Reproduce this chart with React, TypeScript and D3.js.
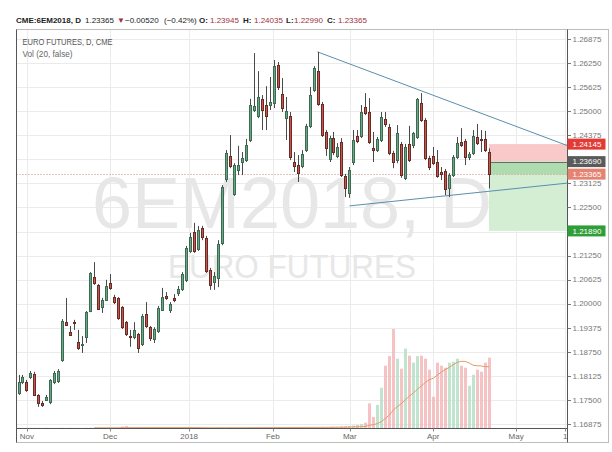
import React from "react";
import * as d3 from "d3";

// ---- data (daily bars, 6EM2018) ----
const opens = [
  1.1768, 1.1797, 1.1797, 1.1810, 1.1817, 1.1763, 1.1742, 1.1750, 1.1745, 1.1797,
  1.1799, 1.1854, 1.1952, 1.1927, 1.1952, 1.1901, 1.1893, 1.1914, 1.1981, 1.2069,
  1.2049, 1.1991, 1.2010, 1.2054, 1.2017, 1.2015, 1.1991, 1.1952, 1.1916, 1.1914,
  1.1921, 1.1895, 1.1973, 1.1939, 1.1908, 1.1929, 1.1984, 1.2020, 1.1984, 1.2015,
  1.2028, 1.2038, 1.2062, 1.2137, 1.2186, 1.2142, 1.2197, 1.2171, 1.2088, 1.2056,
  1.2067, 1.2158, 1.2324, 1.2384, 1.2285, 1.2347, 1.2368, 1.2373, 1.2425, 1.2503,
  1.2488, 1.2532, 1.2516, 1.2516, 1.2521, 1.2620, 1.2545, 1.2482, 1.2488, 1.2368,
  1.2360, 1.2358, 1.2399, 1.2462, 1.2555, 1.2604, 1.2519, 1.2446, 1.2376, 1.2430,
  1.2384, 1.2420, 1.2332, 1.2288, 1.2368, 1.2436, 1.2436, 1.2511, 1.2498, 1.2404,
  1.2399, 1.2425, 1.2480, 1.2459, 1.2391, 1.2373, 1.2415, 1.2327, 1.2415, 1.2412,
  1.2433, 1.2521, 1.2477, 1.2378, 1.2384, 1.2368, 1.2342, 1.2345, 1.2300, 1.2334,
  1.2381, 1.2420, 1.2423, 1.2381, 1.2391, 1.2433, 1.2428, 1.2428, 1.23945,
];
const highs = [
  1.1815, 1.1815, 1.1802, 1.1825, 1.1823, 1.1765, 1.1747, 1.1763, 1.1804, 1.1825,
  1.1830, 1.1960, 1.2015, 1.1942, 1.1958, 1.1932, 1.1916, 1.1981, 1.2082, 1.2108,
  1.2051, 1.2015, 1.2062, 1.2077, 1.2023, 1.2017, 1.1994, 1.1955, 1.1932, 1.1952,
  1.1924, 1.1973, 1.2004, 1.1942, 1.1939, 1.1994, 1.2041, 1.2030, 1.2004, 1.2025,
  1.2046, 1.2082, 1.2150, 1.2184, 1.2210, 1.2202, 1.2202, 1.2176, 1.2093, 1.2082,
  1.2165, 1.2308, 1.2399, 1.2438, 1.2365, 1.2410, 1.2394, 1.2428, 1.2532, 1.2651,
  1.2604, 1.2542, 1.2565, 1.2589, 1.2633, 1.2628, 1.2586, 1.2537, 1.2498, 1.2394,
  1.2386, 1.2399, 1.2467, 1.2563, 1.2617, 1.2654, 1.2524, 1.2451, 1.2436, 1.2446,
  1.2417, 1.2430, 1.2337, 1.2355, 1.2451, 1.2451, 1.2516, 1.2547, 1.2534, 1.2446,
  1.2433, 1.2498, 1.2498, 1.2467, 1.2397, 1.2464, 1.2420, 1.2415, 1.2462, 1.2446,
  1.2534, 1.2547, 1.2482, 1.2384, 1.2407, 1.2399, 1.2355, 1.2350, 1.2339, 1.2386,
  1.2433, 1.2456, 1.2428, 1.2394, 1.2451, 1.2467, 1.2451, 1.2449, 1.24035,
];
const lows = [
  1.1763, 1.1791, 1.1771, 1.1804, 1.1760, 1.1732, 1.1732, 1.1747, 1.1739, 1.1791,
  1.1794, 1.1849, 1.1942, 1.1916, 1.1932, 1.1880, 1.1872, 1.1898, 1.1978, 1.2049,
  1.1984, 1.1976, 1.2007, 1.2036, 1.1999, 1.1958, 1.1934, 1.1916, 1.1888, 1.1908,
  1.1872, 1.1890, 1.1937, 1.1903, 1.1898, 1.1924, 1.1981, 1.2010, 1.1976, 1.2004,
  1.2020, 1.2033, 1.2056, 1.2132, 1.2132, 1.2137, 1.2165, 1.2080, 1.2036, 1.2036,
  1.2043, 1.2152, 1.2316, 1.2352, 1.2280, 1.2334, 1.2334, 1.2368, 1.2420, 1.2498,
  1.2482, 1.2451, 1.2451, 1.2503, 1.2508, 1.2555, 1.2498, 1.2425, 1.2373, 1.2342,
  1.2316, 1.2352, 1.2394, 1.2456, 1.2550, 1.2514, 1.2433, 1.2384, 1.2368, 1.2386,
  1.2378, 1.2329, 1.2277, 1.2275, 1.2360, 1.2417, 1.2430, 1.2490, 1.2415, 1.2368,
  1.2394, 1.2420, 1.2459, 1.2386, 1.2352, 1.2365, 1.2327, 1.2321, 1.2368, 1.2404,
  1.2428, 1.2472, 1.2373, 1.2347, 1.2360, 1.2327, 1.2321, 1.2282, 1.2277, 1.2329,
  1.2376, 1.2407, 1.2360, 1.2373, 1.2386, 1.2412, 1.2394, 1.2394, 1.2299,
];
const closes = [
  1.1797, 1.1810, 1.1776, 1.1820, 1.1763, 1.1742, 1.1737, 1.1758, 1.1802, 1.1820,
  1.1825, 1.1955, 1.1945, 1.1919, 1.1950, 1.1885, 1.1895, 1.1978, 1.2080, 1.2054,
  1.1986, 1.2010, 1.2046, 1.2041, 1.2004, 1.1963, 1.1939, 1.1921, 1.1914, 1.1932,
  1.1885, 1.1968, 1.1942, 1.1911, 1.1934, 1.1989, 1.2017, 1.2015, 1.1999, 1.2010,
  1.2038, 1.2077, 1.2145, 1.2173, 1.2137, 1.2191, 1.2173, 1.2085, 1.2049, 1.2072,
  1.2155, 1.2303, 1.2391, 1.2358, 1.2360, 1.2360, 1.2378, 1.2412, 1.2516, 1.2514,
  1.2537, 1.2503, 1.2488, 1.2524, 1.2617, 1.2563, 1.2508, 1.2501, 1.2381, 1.2358,
  1.2339, 1.2389, 1.2462, 1.2542, 1.2612, 1.2519, 1.2438, 1.2404, 1.2430, 1.2394,
  1.2407, 1.2334, 1.2300, 1.2347, 1.2425, 1.2423, 1.2498, 1.2495, 1.2420, 1.2399,
  1.2428, 1.2485, 1.2467, 1.2391, 1.2368, 1.2443, 1.2334, 1.2407, 1.2373, 1.2443,
  1.2532, 1.2477, 1.2378, 1.2355, 1.2365, 1.2332, 1.2337, 1.2298, 1.2334, 1.2381,
  1.2417, 1.2412, 1.2381, 1.2389, 1.2436, 1.2417, 1.2425, 1.2399, 1.23365,
];
const volumes = [
  300, 200, 400, 300, 500, 300, 200, 400, 300, 200,
  400, 600, 300, 500, 400, 300, 200, 500, 700, 400,
  300, 600, 400, 300, 500, 800, 3000, 4200, 600, 400,
  500, 700, 400, 300, 600, 500, 400, 300, 500, 400,
  600, 400, 500, 700, 400, 600, 500, 800, 600, 500,
  700, 900, 600, 800, 700, 900, 1000, 800, 1100, 900,
  1200, 1000, 900, 1100, 1300, 1000, 1200, 1400, 1100, 1300,
  1500, 1200, 1600, 1400, 1800, 1600, 2000, 1800, 2200, 2600,
  2400, 3000, 3400, 4000, 5200, 6000, 8000, 10600, 49000, 22000,
  46000, 80000, 124000, 143000, 197000, 138000, 118000, 158000, 144000, 130000,
  143000, 144000, 138000, 116000, 62000, 130000, 124000, 120000, 130000, 132000,
  138000, 124000, 120000, 84000, 106000, 116000, 112000, 130000, 140000,
];

const priceTicks = [
  1.26875, 1.2625, 1.25625, 1.25, 1.24375, 1.2375, 1.23125, 1.225, 1.21875,
  1.2125, 1.20625, 1.2, 1.19375, 1.1875, 1.18125, 1.175, 1.16875,
];
const timeLabels = ["Nov", "Dec", "2018", "Feb", "Mar", "Apr", "May", "1"];
const timeTickIndex = [2.1, 23, 42.8, 63.8, 83.1, 104, 124.8, 137.1];

const upperTrend = [
  [75, 1.2654],
  [101, 1.2553],
];
const lowerTrend = [
  [83, 1.2254],
  [107, 1.228],
];
const positionStartIndex = 118;
const stopLevel = 1.24145;
const entryLevel = 1.2369;
const targetLevel = 1.2189;
const lastPrice = 1.23365;

// header pieces: text, style
const headerParts = [
  { t: "CME:6EM2018, D", bold: true, red: false },
  { t: "1.23365", bold: false, red: false },
  { t: "▼", bold: false, red: true },
  { t: "−0.00520", bold: false, red: false },
  { t: "(−0.42%)", bold: false, red: false },
  { t: "O:", bold: true, red: false },
  { t: "1.23945", bold: false, red: true },
  { t: "H:", bold: true, red: false },
  { t: "1.24035", bold: false, red: true },
  { t: "L:", bold: true, red: false },
  { t: "1.22990", bold: false, red: true },
  { t: "C:", bold: true, red: false },
  { t: "1.23365", bold: false, red: true },
];
// left edge of each header piece (layout)
const headerX = [16, 85, 117, 125, 164, 199, 210, 243, 254, 286, 294, 327, 338];

const FONT = "'Liberation Sans', Arial, sans-serif";

export default function App() {
  const W = 612;
  const H = 452;
  const plot = { left: 16.5, right: 567.5, top: 29.5, bottom: 428.5 };
  const outer = { right: 608.5, bottom: 442.5 };

  const x = d3.scaleLinear().domain([0, 118]).range([18.5, 489]);
  const y = d3.scaleLinear().domain([1.16875, 1.26875]).range([424, 39]);
  const vy = d3.scaleLinear().domain([0, 200000]).range([428, 327.5]);

  const n = closes.length;
  const idx = d3.range(n);
  const up = (i: number) => closes[i] >= opens[i];

  // volume MA(20)
  const ma = idx.map((i) => {
    const s = Math.max(0, i - 19);
    return d3.mean(volumes.slice(s, i + 1)) as number;
  });
  const maLine = d3
    .line<number>()
    .x((i) => x(i))
    .y((i) => vy(ma[i]));

  const idxRight = x.invert(plot.right);
  const extend = (t: number[][]) => {
    const [a, b] = t;
    const slope = (b[1] - a[1]) / (b[0] - a[0]);
    return { x1: x(a[0]), y1: y(a[1]), x2: x(idxRight), y2: y(a[1] + slope * (idxRight - a[0])) };
  };
  const ut = extend(upperTrend);
  const lt = extend(lowerTrend);

  const crisp = (v: number) => Math.round(v) + 0.5;

  const posX = x(positionStartIndex);
  const posW = plot.right - posX;

  const priceLabels = [
    { v: stopLevel, bg: "#e23b36" },
    { v: entryLevel, bg: "#5a5a5a" },
    { v: lastPrice, bg: "#e48372" },
    { v: targetLevel, bg: "#2f9e38" },
  ];
  // tick labels fully hidden behind a price label are not drawn
  const visibleTicks = priceTicks.filter(
    (v) => !priceLabels.some((p) => Math.abs(y(p.v) - y(v)) < 7)
  );

  return (
    <svg
      width={W}
      height={H}
      style={{ position: "absolute", left: 0, top: 0, background: "#fff" }}
      fontFamily={FONT}
    >
      <defs>
        <clipPath id="plotClip">
          <rect x={plot.left} y={plot.top} width={plot.right - plot.left} height={plot.bottom - plot.top} />
        </clipPath>
      </defs>
      <rect x={0} y={0} width={W} height={H} fill="#fff" />

      {/* header */}
      <g fontSize={8}>
        {headerParts.map((p, k) => (
          <text
            key={"hd" + k}
            x={headerX[k]}
            y={22.5}
            fontWeight={p.bold ? "bold" : "normal"}
            fill={p.red ? "#a0303a" : "#222"}
          >
            {p.t}
          </text>
        ))}
      </g>

      {/* grid */}
      <g stroke="#ebebeb" strokeWidth={1}>
        {priceTicks.map((v) => (
          <line key={"h" + v} x1={plot.left} x2={plot.right} y1={crisp(y(v))} y2={crisp(y(v))} />
        ))}
        {timeTickIndex.map((t) => (
          <line key={"v" + t} x1={crisp(x(t))} x2={crisp(x(t))} y1={plot.top} y2={plot.bottom} />
        ))}
      </g>

      {/* watermark */}
      <g fill="#e7e7e7" textAnchor="middle">
        <text x={292} y={228} fontSize={72}>6EM2018, D</text>
        <text x={292} y={278} fontSize={33} textLength={248} lengthAdjust="spacingAndGlyphs">EURO FUTURES</text>
      </g>

      {/* legend */}
      <text x={22.5} y={45} fontSize={9} fill="#555" textLength={90} lengthAdjust="spacingAndGlyphs">
        EURO FUTURES, D, CME
      </text>
      <text x={22.5} y={56.5} fontSize={9} fill="#666" textLength={50} lengthAdjust="spacingAndGlyphs">
        Vol (20, false)
      </text>

      <g clipPath="url(#plotClip)">
        {/* volume */}
        {idx.map((i) => {
          const c = Math.round(x(i));
          const top = vy(volumes[i]);
          return (
            <rect
              key={"vol" + i}
              x={c - 1}
              y={top}
              width={3}
              height={Math.max(0, 428 - top)}
              fill={up(i) ? "#b5dfc5" : "#f3b8b8"}
              opacity={0.85}
            />
          );
        })}
        <path d={maLine(idx.slice(19)) || ""} fill="none" stroke="#e39a6a" strokeWidth={1} />

        {/* position tool */}
        <rect x={posX} y={y(stopLevel)} width={posW} height={y(entryLevel) - y(stopLevel)} fill="#f9c9c9" />
        <rect x={posX} y={y(entryLevel)} width={posW} height={y(targetLevel) - y(entryLevel)} fill="#d3eed3" />
        <rect x={posX} y={y(entryLevel)} width={posW} height={y(lastPrice) - y(entryLevel)} fill="#aedcae" />
        <line x1={posX} x2={plot.right} y1={crisp(y(entryLevel))} y2={crisp(y(entryLevel))} stroke="#6b6b6b" />

        {/* trend lines */}
        <line {...ut} stroke="#5a8fae" strokeWidth={1} />
        <line {...lt} stroke="#5a8fae" strokeWidth={1} />

        {/* last price line */}
        <line
          x1={plot.left}
          x2={plot.right}
          y1={crisp(y(lastPrice))}
          y2={crisp(y(lastPrice))}
          stroke="#c98a84"
          strokeDasharray="1 2"
        />

        {/* candles */}
        {idx.map((i) => {
          const c = Math.round(x(i));
          const yo = y(opens[i]);
          const yc = y(closes[i]);
          const top = Math.round(Math.min(yo, yc));
          const h = Math.max(1, Math.round(Math.abs(yo - yc)));
          const g = up(i);
          return (
            <g key={"c" + i}>
              <line x1={c + 0.5} x2={c + 0.5} y1={y(highs[i])} y2={y(lows[i])} stroke="#4a4a4a" strokeWidth={1} />
              <rect
                x={c - 0.5}
                y={top + 0.5}
                width={2}
                height={h}
                fill={g ? "#6aa584" : "#c4584e"}
                stroke={g ? "#3c6a52" : "#6a2a24"}
                strokeWidth={1}
              />
            </g>
          );
        })}
      </g>

      {/* frame */}
      <g fill="none">
        <rect x={plot.left} y={plot.top} width={outer.right - plot.left} height={outer.bottom - plot.top} stroke="#bdbdbd" />
        <line x1={plot.left} x2={plot.left} y1={plot.top} y2={outer.bottom} stroke="#555" />
        <line x1={plot.right} x2={plot.right} y1={plot.top} y2={outer.bottom} stroke="#555" />
        <line x1={plot.left} x2={plot.right} y1={plot.bottom} y2={plot.bottom} stroke="#555" />
      </g>

      {/* right axis */}
      <g fontSize={8} fill="#777">
        {priceTicks.map((v) => (
          <line key={"tk" + v} x1={plot.right} x2={plot.right + 3.5} y1={crisp(y(v))} y2={crisp(y(v))} stroke="#777" />
        ))}
        {visibleTicks.map((v) => (
          <text key={"t" + v} x={plot.right + 5} y={y(v)} dy="0.35em">
            {v.toFixed(5)}
          </text>
        ))}
      </g>
      {priceLabels.map((p) => (
        <g key={"pl" + p.v}>
          <rect x={plot.right} y={y(p.v) - 5.5} width={38} height={11} fill={p.bg} />
          <text x={plot.right + 5} y={y(p.v)} dy="0.35em" fontSize={8} fill="#fff">
            {p.v.toFixed(5)}
          </text>
        </g>
      ))}

      {/* time axis */}
      <g fontSize={8} fill="#666" textAnchor="middle">
        {timeTickIndex.map((t, k) => (
          <g key={"x" + t}>
            <line x1={crisp(x(t))} x2={crisp(x(t))} y1={plot.bottom} y2={plot.bottom + 3} stroke="#888" />
            <text x={x(t)} y={439}>
              {timeLabels[k]}
            </text>
          </g>
        ))}
      </g>
    </svg>
  );
}
